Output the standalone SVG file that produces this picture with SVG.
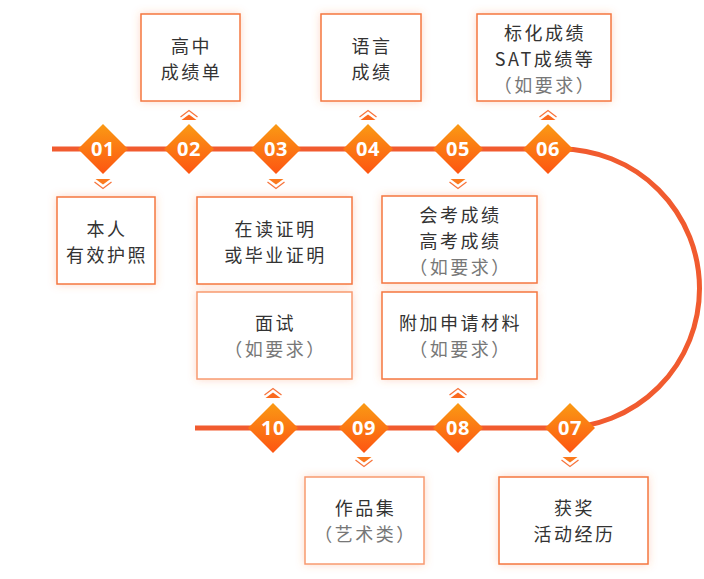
<svg xmlns="http://www.w3.org/2000/svg" width="704" height="579" viewBox="0 0 704 579">
<defs>
<linearGradient id="dg" x1="0" y1="0" x2="0" y2="1">
<stop offset="0" stop-color="#fa9a14"/>
<stop offset="1" stop-color="#fd5512"/>
</linearGradient>
<filter id="sh" x="-20%" y="-20%" width="140%" height="140%">
<feDropShadow dx="0" dy="0" stdDeviation="4" flood-color="#f7743c" flood-opacity="0.28"/>
</filter>
<g id="dia"><path d="M0,-25 L25,0 L0,25 L-25,0 Z" fill="url(#dg)"/></g>
<g id="dn"><path d="M-7.5,0 L7.5,0 L0,5.5 Z" fill="#fb7a1e"/><path d="M-8.5,3 L0,9.5 L8.5,3" fill="none" stroke="#f7743c" stroke-width="1.3"/></g>
<g id="up"><path d="M-7.5,0 L7.5,0 L0,-5.5 Z" fill="#fb6a1e"/><path d="M-8.5,-3 L0,-9.5 L8.5,-3" fill="none" stroke="#f7743c" stroke-width="1.3"/></g>
</defs>
<style>
.box{fill:#fff;stroke:#f5773f;stroke-width:1.5;filter:url(#sh)}
.t{font-family:"Noto Sans CJK SC","Noto Sans",sans-serif;font-size:18px;letter-spacing:2.5px;fill:#333;text-anchor:middle}
.g{fill:#777}
.n{font-family:"Noto Sans",Roboto,sans-serif;font-weight:bold;font-size:20px;fill:#fff;text-anchor:middle;letter-spacing:0.5px}
</style>
<rect width="704" height="579" fill="#fff"/>
<g id="connectors">
<path d="M52,149 H560 A139.5,139.5 0 0 1 560,428 H195" fill="none" stroke="#f15b2f" stroke-width="5"/>
<use href="#dn" x="103" y="179"/>
<use href="#up" x="189" y="120"/>
<use href="#dn" x="276" y="179"/>
<use href="#up" x="368" y="120"/>
<use href="#dn" x="458" y="179"/>
<use href="#up" x="548" y="120"/>
<use href="#dn" x="570" y="457"/>
<use href="#up" x="458" y="398"/>
<use href="#dn" x="364" y="457"/>
<use href="#up" x="273" y="398"/>
</g>
<g id="s01"><use href="#dia" x="103" y="149"/><text class="n" x="103" y="156">01</text></g>
<g id="s02"><use href="#dia" x="189" y="149"/><text class="n" x="189" y="156">02</text></g>
<g id="s03"><use href="#dia" x="276" y="149"/><text class="n" x="276" y="156">03</text></g>
<g id="s04"><use href="#dia" x="368" y="149"/><text class="n" x="368" y="156">04</text></g>
<g id="s05"><use href="#dia" x="458" y="149"/><text class="n" x="458" y="156">05</text></g>
<g id="s06"><use href="#dia" x="548" y="149"/><text class="n" x="548" y="156">06</text></g>
<g id="s07"><use href="#dia" x="570" y="428"/><text class="n" x="570" y="435">07</text></g>
<g id="s08"><use href="#dia" x="458" y="428"/><text class="n" x="458" y="435">08</text></g>
<g id="s09"><use href="#dia" x="364" y="428"/><text class="n" x="364" y="435">09</text></g>
<g id="s10"><use href="#dia" x="273" y="428"/><text class="n" x="273" y="435">10</text></g>
<g id="b01"><rect class="box" x="57" y="197" width="98" height="87"/><text class="t" x="107" y="236">本人</text><text class="t" x="107" y="262">有效护照</text></g>
<g id="b02"><rect class="box" x="141" y="14" width="99" height="87"/><text class="t" x="191.5" y="53">高中</text><text class="t" x="191.5" y="79">成绩单</text></g>
<g id="b03"><rect class="box" x="197" y="197" width="155" height="87"/><text class="t" x="275.5" y="236">在读证明</text><text class="t" x="275.5" y="262">或毕业证明</text></g>
<g id="b04"><rect class="box" x="321" y="14" width="100" height="87"/><text class="t" x="372" y="53">语言</text><text class="t" x="372" y="79">成绩</text></g>
<g id="b05"><rect class="box" x="382" y="196" width="155" height="87"/><text class="t" x="460.5" y="222">会考成绩</text><text class="t" x="460.5" y="248">高考成绩</text><text class="t g" x="460.5" y="274">（如要求）</text></g>
<g id="b06"><rect class="box" x="477" y="14" width="134" height="87"/><text class="t" x="545" y="40">标化成绩</text><text class="t" x="545" y="66">SAT成绩等</text><text class="t g" x="545" y="92">（如要求）</text></g>
<g id="b07"><rect class="box" x="499" y="477" width="149" height="87"/><text class="t" x="574.5" y="515">获奖</text><text class="t" x="574.5" y="541">活动经历</text></g>
<g id="b08"><rect class="box" x="382" y="292" width="155" height="87"/><text class="t" x="460.5" y="330">附加申请材料</text><text class="t g" x="460.5" y="356">（如要求）</text></g>
<g id="b09"><rect class="box" x="305" y="477" width="119" height="87" style="stroke:#f89a70"/><text class="t" x="365.5" y="515">作品集</text><text class="t g" x="365.5" y="541">（艺术类）</text></g>
<g id="b10"><rect class="box" x="197" y="292" width="155" height="87" style="stroke:#f89a70"/><text class="t" x="275.5" y="330">面试</text><text class="t g" x="275.5" y="356">（如要求）</text></g>
</svg>
